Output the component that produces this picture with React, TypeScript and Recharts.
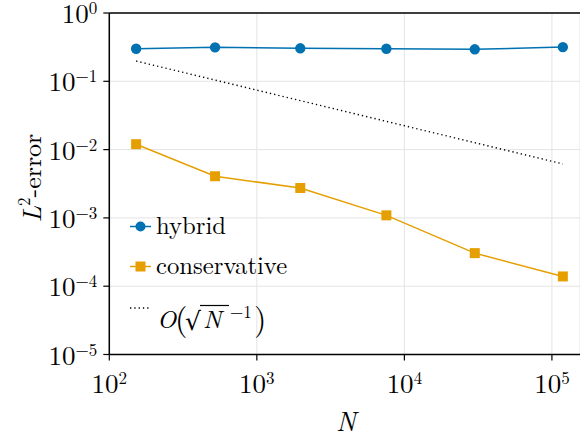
import React from 'react';
import { LineChart, Line, XAxis, YAxis, CartesianGrid, ReferenceLine, Legend } from 'recharts';

const N = [152, 521, 1970, 7550, 30000, 118600];
const hybrid = [0.3, 0.314, 0.304, 0.3, 0.294, 0.317];
const conservative = [0.012, 0.00407, 0.00274, 0.00109, 0.000305, 0.000139];
const reference = [0.198, null, null, null, null, 0.00617];
const xTicks = [1e2, 1e3, 1e4, 1e5];
const yTicks = [1, 1e-1, 1e-2, 1e-3, 1e-4, 1e-5];
const xDomain = [100, 155000];
const yDomain = [1e-5, 1];
const seriesNames = { hybrid: 'hybrid', conservative: 'conservative', reference: 'O(√N⁻¹)' };

const data = N.map((n, i) => ({
  N: n,
  hybrid: hybrid[i],
  conservative: conservative[i],
  reference: reference[i],
}));

const LM = "'Latin Modern Roman', 'Liberation Serif', serif";
const SANS = "'DejaVu Sans', sans-serif";
const BLUE = '#0072B2';
const ORANGE = '#E69F00';

const lm = (size: number, italic = false): React.CSSProperties => ({
  fontFamily: LM,
  fontSize: size,
  fontStyle: italic ? 'italic' : 'normal',
});
const sans = (size: number): React.CSSProperties => ({ fontFamily: SANS, fontSize: size });

const expOf = (v: number) => Math.round(Math.log10(v));
const fmtExp = (e: number) => (e < 0 ? '\u2212' + Math.abs(e) : String(e));

const XTick = (props: any) => {
  const { x, y, payload } = props;
  const e = expOf(payload.value);
  return (
    <text x={x} y={y + 32.5} textAnchor="middle" fill="#000" style={lm(27)}>
      <tspan style={lm(27)}>10</tspan>
      <tspan style={lm(17)} dy={-9}>{fmtExp(e)}</tspan>
    </text>
  );
};

const YTick = (props: any) => {
  const { x, y, payload } = props;
  const e = expOf(payload.value);
  return (
    <text x={x} y={y + 10} textAnchor="end" fill="#000" style={lm(27)}>
      <tspan style={lm(27)}>10</tspan>
      <tspan style={lm(17)} dy={-9}>{fmtExp(e)}</tspan>
    </text>
  );
};

const SquareDot = (p: any) => {
  if (p.cx == null || p.cy == null) return <g key={p.index} />;
  return <rect key={p.index} x={p.cx - 5} y={p.cy - 5} width={10} height={10} fill={ORANGE} />;
};

const LegendContent = (props: any) => {
  const payload: any[] = props.payload || [];
  const find = (k: string) =>
    payload.find((e) => e.dataKey === k) || { value: (seriesNames as any)[k], color: '#000' };
  const h = find('hybrid');
  const c = find('conservative');
  return (
    <svg width={580} height={441} style={{ display: 'block', overflow: 'visible' }}>
      <line x1={130} x2={151} y1={226.5} y2={226.5} stroke={h.color} strokeWidth={1.5} />
      <circle cx={140.5} cy={226.5} r={5} fill={h.color} />
      <text x={156} y={234} fill="#000" style={lm(24.7)}>{h.value}</text>
      <line x1={130} x2={151} y1={266.5} y2={266.5} stroke={c.color} strokeWidth={1.5} />
      <rect x={135.5} y={261.5} width={10} height={10} fill={c.color} />
      <text x={156} y={274} fill="#000" style={lm(24.7)}>{c.value}</text>
      <line x1={130} x2={151} y1={308} y2={308} stroke="#000" strokeWidth={1.4} strokeDasharray="1.3 3" />
      <text x={157} y={328} fill="#000" style={lm(25, true)}>O</text>
      <text x={175} y={330} fill="#000" style={lm(32)}>(</text>
      <text x={185} y={330} fill="#000" style={sans(25)}>√</text>
      <line x1={200} x2={229} y1={305.5} y2={305.5} stroke="#000" strokeWidth={1.2} />
      <text x={203} y={328} fill="#000" style={lm(25, true)}>N</text>
      <text x={230} y={318} fill="#000" style={lm(17)}>{'\u22121'}</text>
      <text x={254} y={330} fill="#000" style={lm(32)}>)</text>
    </svg>
  );
};

export default function App() {
  return (
    <div style={{ position: 'absolute', left: 0, top: 0, background: '#fff' }}>
      <LineChart width={580} height={441} data={data} margin={{ top: 13, right: 0, bottom: 0, left: 0 }}>
        <CartesianGrid stroke="#e4e4e4" strokeWidth={1} />
        <XAxis
          dataKey="N"
          type="number"
          scale="log"
          domain={xDomain}
          ticks={xTicks}
          allowDataOverflow
          height={86.5}
          tick={<XTick />}
          tickSize={6}
          tickMargin={0}
          axisLine={{ stroke: '#000', strokeWidth: 1.5 }}
          tickLine={{ stroke: '#000', strokeWidth: 1.2 }}
          label={{
            content: () => (
              <text x={346} y={431} textAnchor="middle" fill="#000" style={lm(27, true)}>N</text>
            ),
          }}
        />
        <YAxis
          type="number"
          scale="log"
          domain={yDomain}
          ticks={yTicks}
          allowDataOverflow
          width={109.3}
          tick={<YTick />}
          tickSize={6}
          tickMargin={6}
          axisLine={{ stroke: '#000', strokeWidth: 1.5 }}
          tickLine={{ stroke: '#000', strokeWidth: 1.2 }}
          label={{
            content: () => (
              <text transform="rotate(-90, 41, 178)" x={41} y={178} textAnchor="middle" fill="#000" style={lm(26)}>
                <tspan style={lm(26, true)}>L</tspan>
                <tspan style={lm(17)} dy={-11}>2</tspan>
                <tspan style={lm(26)} dy={11}>-error</tspan>
              </text>
            ),
          }}
        />
        <ReferenceLine y={1} stroke="#000" strokeWidth={1.5} ifOverflow="visible" />
        <Line
          dataKey="reference"
          name={seriesNames.reference}
          stroke="#000"
          strokeWidth={1.4}
          strokeDasharray="1.3 3"
          dot={false}
          connectNulls
          isAnimationActive={false}
        />
        <Line
          dataKey="conservative"
          name={seriesNames.conservative}
          stroke={ORANGE}
          strokeWidth={1.5}
          dot={SquareDot}
          isAnimationActive={false}
        />
        <Line
          dataKey="hybrid"
          name={seriesNames.hybrid}
          stroke={BLUE}
          strokeWidth={1.5}
          dot={{ r: 5.2, fill: BLUE, stroke: 'none' }}
          isAnimationActive={false}
        />
        <Legend
          content={<LegendContent />}
          layout="vertical"
          align="center"
          verticalAlign="middle"
          wrapperStyle={{ left: 0, top: 0, width: 580, height: 441 }}
        />
      </LineChart>
    </div>
  );
}
